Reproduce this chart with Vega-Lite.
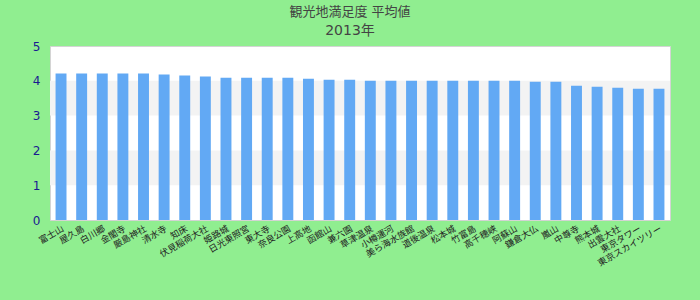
{
  "$schema": "https://vega.github.io/schema/vega-lite/v6.json",
  "width": 620,
  "height": 174,
  "autosize": {"type": "none"},
  "padding": {"left": 50, "top": 46, "right": 30, "bottom": 80},
  "background": "#90EE90",
  "config": {
    "view": {"fill": "white", "stroke": "#d4d4d4", "strokeWidth": 1},
    "font": "DejaVu Sans, Noto Sans CJK JP",
    "axisY": {
      "title": null,
      "values": [0, 1, 2, 3, 4, 5],
      "grid": false,
      "domain": false,
      "ticks": false,
      "labelColor": "#1a1a90",
      "labelFontSize": 12,
      "labelPadding": 10
    }
  },
  "title": {
    "text": "観光地満足度 平均値",
    "subtitle": "2013年",
    "anchor": "middle",
    "frame": "group",
    "dx": -10,
    "fontSize": 13,
    "fontWeight": "normal",
    "color": "#444444",
    "subtitleFontSize": 14,
    "subtitleColor": "#444444",
    "subtitlePadding": 5,
    "offset": 2
  },
  "datasets": {
    "bands": [{"lo": 1, "hi": 2}, {"lo": 3, "hi": 4}],
    "scores": [
      {"name": "富士山", "score": 4.21},
      {"name": "屋久島", "score": 4.21},
      {"name": "白川郷", "score": 4.21},
      {"name": "金閣寺", "score": 4.21},
      {"name": "厳島神社", "score": 4.21},
      {"name": "清水寺", "score": 4.18},
      {"name": "知床", "score": 4.15},
      {"name": "伏見稲荷大社", "score": 4.12},
      {"name": "姫路城", "score": 4.09},
      {"name": "日光東照宮", "score": 4.09},
      {"name": "東大寺", "score": 4.09},
      {"name": "奈良公園", "score": 4.09},
      {"name": "上高地", "score": 4.06},
      {"name": "函館山", "score": 4.03},
      {"name": "兼六園", "score": 4.03},
      {"name": "草津温泉", "score": 4.0},
      {"name": "小樽運河", "score": 4.0},
      {"name": "美ら海水族館", "score": 4.0},
      {"name": "道後温泉", "score": 4.0},
      {"name": "松本城", "score": 4.0},
      {"name": "竹富島", "score": 4.0},
      {"name": "高千穂峡", "score": 4.0},
      {"name": "阿蘇山", "score": 4.0},
      {"name": "鎌倉大仏", "score": 3.97},
      {"name": "嵐山", "score": 3.97},
      {"name": "中尊寺", "score": 3.86},
      {"name": "熊本城", "score": 3.83},
      {"name": "出雲大社", "score": 3.8},
      {"name": "東京タワー", "score": 3.77},
      {"name": "東京スカイツリー", "score": 3.77}
    ]
  },
  "layer": [
    {
      "data": {"name": "bands"},
      "mark": {"type": "rect", "color": "#f3f3f3"},
      "encoding": {
        "y": {"field": "lo", "type": "quantitative", "scale": {"domain": [0, 5]}},
        "y2": {"field": "hi"}
      }
    },
    {
      "data": {"name": "scores"},
      "mark": {"type": "bar", "color": "#62A9F4"},
      "encoding": {
        "x": {
          "field": "name",
          "type": "nominal",
          "sort": null,
          "scale": {"paddingInner": 0.47, "paddingOuter": 0.27},
          "axis": {
            "title": null,
            "labelAngle": -30,
            "domain": false,
            "ticks": false,
            "labelFontSize": 9,
            "labelColor": "#222222",
            "labelPadding": 4,
            "labelDx": -6
          }
        },
        "y": {
          "field": "score",
          "type": "quantitative",
          "scale": {"domain": [0, 5]}
        }
      }
    }
  ]
}
